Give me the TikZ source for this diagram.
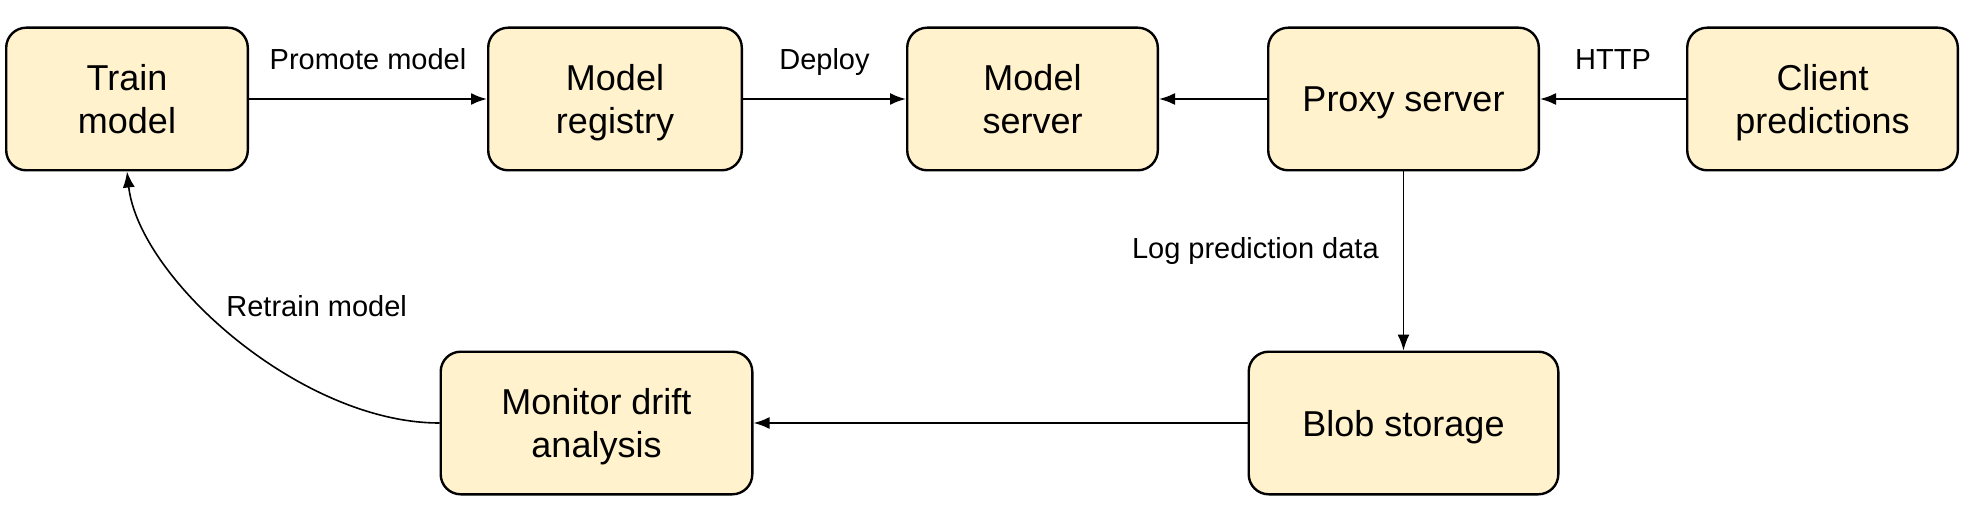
\documentclass[tikz,border=0pt]{standalone}
\usepackage{fontspec}
\setmainfont{Liberation Sans}
\usetikzlibrary{positioning,arrows.meta}
\definecolor{boxfill}{HTML}{FFF2CC}

\begin{document}
\begin{tikzpicture}[
        box/.style={draw, line width=1.2pt, rounded corners=10pt, fill=boxfill, minimum height=71.3pt, text depth=0pt, align=center, font=\fontsize{18}{21.5}\selectfont},
        lbl/.style={inner sep=0pt, text height=10.5pt, text depth=3pt, font=\fontsize{14.5}{17}\selectfont},
        >={Latex[length=8pt,width=6pt]}]
            \useasboundingbox (0,0) rectangle (990pt,-259pt);
            % nodes
            \node (train) [box, minimum width=120.8pt] at (63.5pt,-49.5pt) {Train\\model};
            \node (registry) [box, minimum width=126.8pt, right=119pt of train] {Model\\registry};
            \node (server) [box, minimum width=125.3pt, right=81.5pt of registry] {Model\\server};
            \node (proxy) [box, minimum width=135.3pt, right=54pt of server] {Proxy server};
            \node (client) [box, minimum width=135.3pt, right=73pt of proxy] {Client\\predictions};
            \node (blob) [box, minimum width=154.8pt, below=89.5pt of proxy] {Blob storage};
            \node (monitor) [box, minimum width=155.8pt, left=247pt of blob] {Monitor drift\\analysis};
            % arrows
            \draw[->, line width=1pt] (train) -- (registry) node[lbl, midway, above=11pt] (promote) {Promote model};
            \draw[->, line width=1pt] (registry) -- (server) node[lbl, midway, above=11pt] (deploy) {Deploy};
            \draw[->, line width=1pt] (proxy) -- (server);
            \draw[->, line width=1pt] (client) -- (proxy) node[lbl, midway, above=11pt] (http) {HTTP};
            \draw[->, line width=0.8pt] (proxy) -- (blob) node[lbl, midway, left=12pt, yshift=5pt] (log) {Log prediction data};
            \draw[->, line width=1pt] (blob) -- (monitor);
            \draw[->, line width=0.8pt] (monitor.west) .. controls +(-69.5pt,0pt) and +(6pt,-53.5pt) .. (train.south)
                node[lbl, pos=0.5, anchor=west, xshift=-5pt, yshift=14pt] (retrain) {Retrain model};
        \end{tikzpicture}
\end{document}
